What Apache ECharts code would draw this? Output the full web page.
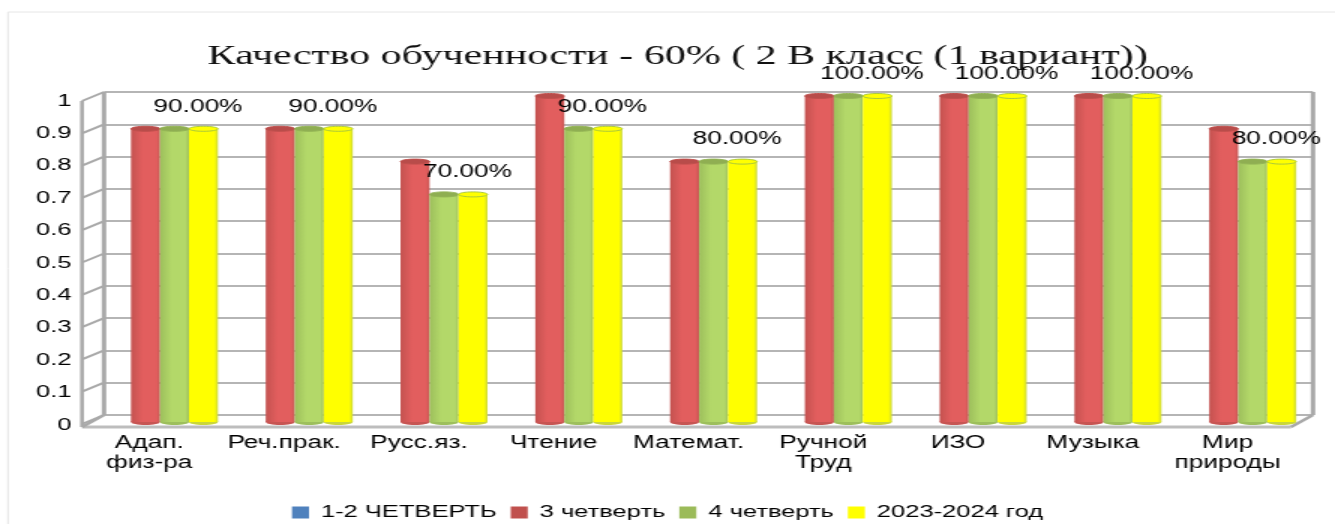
<!DOCTYPE html>
<html style="height: 100%">
<head>
<meta charset="utf-8">
<style>html,body{margin:0;background:#fff;overflow:hidden}</style>
</head>
<body style="height: 100%; margin: 0">
<!-- the reference is a horizontally stretched picture, so the chart is drawn narrow and stretched too -->
<div id="container" style="width:890px;height:524px;transform:scaleX(1.5);transform-origin:0 0"></div>
<script src="https://cdn.jsdelivr.net/npm/echarts@6/dist/echarts.min.js"></script>
<script>
var categories = ['Адап.\nфиз-ра', 'Реч.прак.', 'Русс.яз.', 'Чтение', 'Математ.', 'Ручной\nТруд', 'ИЗО', 'Музыка', 'Мир\nприроды'];
var yTicks = [0, 0.1, 0.2, 0.3, 0.4, 0.5, 0.6, 0.7, 0.8, 0.9, 1];
var names = ['1-2 ЧЕТВЕРТЬ', '3 четверть', '4 четверть', '2023-2024 год'];
var q12 = [];
var q3 = [0.9, 0.9, 0.8, 1, 0.8, 1, 1, 1, 0.9];
var q4 = [0.9, 0.9, 0.7, 0.9, 0.8, 1, 1, 1, 0.8];
var year = [0.9, 0.9, 0.7, 0.9, 0.8, 1, 1, 1, 0.8];

var STRETCH = 1.5;
var FONT = 'Liberation Sans';
var WALL = '#a9a9a9';
var SLOT = 29 / STRETCH;
var DEPTH = 22 / STRETCH;

// page x to chart x
function sx(v) {
    return v / STRETCH;
}

function pairs(arr) {
    return arr.map(function (v, i) { return [i, v]; });
}

// one cylinder: slot counts from the empty first series
function cylinder(slot, leftEdge, mid, rightEdge, cap, capLine) {
    return function (params, api) {
        var top = api.coord([api.value(0), api.value(1)]);
        var base = api.coord([api.value(0), 0]);
        var x = top[0] - 2 * SLOT + slot * SLOT;
        var w = SLOT;
        var fill = new echarts.graphic.LinearGradient(0, 0, 1, 0, [
            {offset: 0, color: leftEdge},
            {offset: 0.4, color: mid},
            {offset: 0.88, color: mid},
            {offset: 1, color: rightEdge}
        ]);
        return {
            type: 'group',
            children: [
                {type: 'ellipse', shape: {cx: x + w / 2, cy: base[1] - 2, rx: w / 2, ry: 3}, style: {fill: rightEdge}},
                {type: 'rect', shape: {x: x, y: top[1], width: w, height: base[1] - top[1] - 2}, style: {fill: fill}},
                {type: 'ellipse', shape: {cx: x + w / 2, cy: top[1], rx: w / 2, ry: 2.5}, style: {fill: cap, stroke: capLine, lineWidth: 1}}
            ]
        };
    };
}

// side wall rungs, running from the back wall to the front axis
function renderRung(params, api) {
    var y = api.coord([0, api.value(1)])[1];
    var x = params.coordSys.x;
    return {
        type: 'line',
        shape: {x1: x, y1: y, x2: x - DEPTH, y2: y + 9},
        style: {stroke: WALL, lineWidth: 2}
    };
}

function renderFrame(params, api) {
    var c = params.coordSys;
    var left = c.x, right = c.x + c.width, top = c.y, bottom = c.y + c.height;
    var line = function (x1, y1, x2, y2, w, col) {
        return {type: 'line', shape: {x1: x1, y1: y1, x2: x2, y2: y2}, style: {stroke: col || WALL, lineWidth: w}};
    };
    return {
        type: 'group',
        children: [
            line(left, top, left, bottom, 3),
            line(left - DEPTH, top + 9, left - DEPTH, bottom + 12, 2.5),
            line(right, top, right, bottom, 3),
            line(left - DEPTH, bottom + 12, right - DEPTH, bottom + 12, 3, '#bdbdbd'),
            line(left, bottom, left - DEPTH, bottom + 12, 2.5),
            line(right, bottom, right - DEPTH, bottom + 12, 2.5)
        ]
    };
}

var option = {
    animation: false,
    backgroundColor: '#fff',
    title: {
        text: 'Качество обученности - 60% ( 2 В класс (1 вариант))',
        left: sx(200),
        top: 38,
        textStyle: {fontFamily: 'Liberation Serif', fontSize: 28, fontWeight: 'normal', color: '#111'}
    },
    legend: {
        data: names,
        left: sx(292),
        top: 504,
        padding: 0,
        icon: 'rect',
        itemWidth: sx(17),
        itemHeight: 12,
        itemGap: sx(14),
        itemStyle: {borderWidth: 0},
        textStyle: {fontFamily: FONT, fontSize: 17, color: '#000', padding: [0, 0, 0, 3]}
    },
    graphic: [{
        type: 'rect',
        silent: true,
        z: -1,
        shape: {x: sx(8), y: 12, width: 900, height: 530},
        style: {fill: 'none', stroke: '#e6e6e6', lineWidth: 1}
    }],
    grid: [
        {left: sx(82), top: 101, width: sx(1213), height: 324},   // front axis, holds the labels
        {left: sx(104), top: 92, width: sx(1209), height: 323},   // back wall
        {left: sx(92.6), top: 96, width: sx(1213), height: 328}   // bars
    ],
    xAxis: [
        {
            type: 'category', gridIndex: 0, data: categories,
            axisLine: {show: false}, axisTick: {show: false},
            axisLabel: {interval: 0, margin: 8, fontFamily: FONT, fontSize: 17.5, lineHeight: 20, color: '#000'}
        },
        {type: 'category', gridIndex: 1, data: categories, show: false},
        {type: 'category', gridIndex: 2, data: categories, show: false}
    ],
    yAxis: [
        {
            type: 'value', gridIndex: 0, min: 0, max: 1, interval: 0.1,
            axisLine: {show: false}, axisTick: {show: false}, splitLine: {show: false},
            axisLabel: {margin: 7, fontFamily: FONT, fontSize: 17, color: '#000'}
        },
        {
            type: 'value', gridIndex: 1, min: 0, max: 1, interval: 0.1,
            axisLine: {show: false}, axisTick: {show: false}, axisLabel: {show: false},
            splitLine: {show: true, lineStyle: {color: '#b5b5b5', width: 2}}
        },
        {type: 'value', gridIndex: 2, min: 0, max: 1, show: false}
    ],
    series: [
        {
            name: 'rungs', type: 'custom', xAxisIndex: 1, yAxisIndex: 1, clip: false, silent: true,
            renderItem: renderRung, data: yTicks.map(function (v) { return [0, v]; })
        },
        {
            name: 'frame', type: 'custom', xAxisIndex: 1, yAxisIndex: 1, clip: false, silent: true,
            renderItem: renderFrame, data: [[0, 0]]
        },
        {name: names[0], type: 'custom', xAxisIndex: 2, yAxisIndex: 2, itemStyle: {color: '#4f81bd'},
            renderItem: cylinder(0, '#3c6aa3', '#4f81bd', '#3c6aa3', '#4f81bd', '#4f81bd'), data: q12},
        {name: names[1], type: 'custom', xAxisIndex: 2, yAxisIndex: 2, clip: false, itemStyle: {color: '#c0504d'},
            renderItem: cylinder(1, '#c45250', '#e25e5e', '#c75553', '#b84c4a', '#c0504d'), data: pairs(q3)},
        {name: names[2], type: 'custom', xAxisIndex: 2, yAxisIndex: 2, clip: false, itemStyle: {color: '#9bbb59'},
            renderItem: cylinder(2, '#9dbf5c', '#b3d869', '#9dbf5c', '#8fae52', '#93b455'), data: pairs(q4)},
        {name: names[3], type: 'custom', xAxisIndex: 2, yAxisIndex: 2, clip: false, itemStyle: {color: '#ffff00'},
            renderItem: cylinder(3, '#ffff00', '#ffff00', '#c9d63a', '#ffff00', '#a9c83c'), data: pairs(year)},
        {
            name: 'labels', type: 'scatter', xAxisIndex: 2, yAxisIndex: 2, symbolSize: 0, silent: true, z: 10,
            data: pairs(year),
            label: {
                show: true, position: 'top', distance: 0, offset: [sx(38), -13],
                fontFamily: FONT, fontSize: 17.5, color: '#000', opacity: 1,
                formatter: function (p) { return (p.value[1] * 100).toFixed(2) + '%'; }
            }
        }
    ]
};

var myChart = echarts.init(document.getElementById('container'));
myChart.setOption(option);
</script>
</body>
</html>
